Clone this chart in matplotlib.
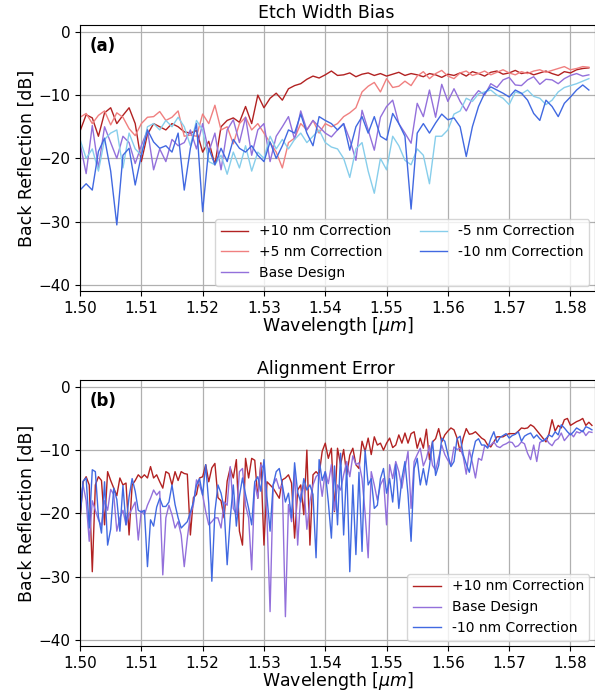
import numpy as np
import matplotlib
matplotlib.use("Agg")
import matplotlib.pyplot as plt

# wavelength sampling of the two panels (um)
wl_a = np.round(1.500 + 0.001 * np.arange(84), 4)
wl_b = np.round(1.500 + 0.0005 * np.arange(168), 4)

# (a) etch width bias, back reflection in dB
a_p10 = [-15.7, -13.1, -13.6, -16.5, -12.8, -12.0, -14.5, -13.2, -12.0, -14.5,
         -20.5, -16.2, -14.5, -15.0, -15.5, -14.5, -15.0, -15.8, -16.0, -15.6,
         -19.0, -17.3, -21.0, -15.0, -14.0, -13.6, -14.3, -11.8, -14.5, -10.0,
         -12.0, -10.5, -9.7, -10.8, -9.0, -8.5, -8.2, -7.5, -7.0, -7.3,
         -6.8, -6.2, -6.9, -6.8, -6.5, -7.1, -6.7, -6.5, -6.9, -6.6,
         -7.0, -6.7, -6.4, -6.9, -6.6, -6.8, -7.1, -6.6, -6.8, -7.2,
         -6.7, -6.9, -6.5, -7.0, -6.3, -6.6, -7.0, -6.4, -6.2, -6.7,
         -6.5, -6.1, -6.6, -6.4, -6.8, -6.5, -6.2, -6.6, -6.9, -6.3,
         -6.5, -6.0, -5.8, -5.7]
a_p5 = [-13.5, -12.9, -14.5, -13.2, -12.5, -14.7, -12.8, -13.5, -15.3, -16.4,
        -14.5, -13.5, -13.4, -12.6, -14.0, -13.5, -12.5, -16.5, -16.3, -16.5,
        -13.0, -14.5, -11.6, -15.5, -15.0, -17.7, -14.5, -13.5, -15.5, -14.5,
        -16.0, -17.5, -19.0, -21.5, -17.5, -16.8, -14.5, -15.5, -14.0, -16.0,
        -14.5, -15.0, -14.5, -13.4, -12.8, -12.0, -9.5, -8.6, -8.0, -9.5,
        -7.4, -8.8, -8.6, -7.8, -8.5, -7.0, -6.3, -7.4, -6.6, -6.1,
        -7.0, -7.4, -6.5, -6.2, -6.9, -6.6, -6.2, -6.8, -6.4, -6.0,
        -6.5, -6.8, -6.3, -6.6, -6.2, -6.0, -6.4, -6.1, -5.8, -5.5,
        -6.0, -5.8, -5.5, -5.6]
a_base = [-17.6, -22.4, -14.8, -21.5, -15.0, -17.5, -20.0, -16.5, -17.5, -20.8,
          -18.0, -15.5, -21.8, -18.5, -20.5, -17.0, -18.0, -17.5, -15.5, -18.5,
          -14.5, -19.0, -16.0, -21.8, -15.5, -13.9, -17.5, -13.5, -19.5, -15.5,
          -14.5, -20.5, -16.5, -15.0, -13.4, -17.0, -12.5, -15.5, -14.0, -15.0,
          -16.0, -16.6, -15.5, -14.5, -17.0, -20.3, -12.4, -15.5, -18.7, -13.5,
          -11.8, -10.8, -14.5, -16.0, -17.6, -11.3, -13.4, -9.2, -13.5, -8.3,
          -11.0, -9.0, -11.0, -12.5, -10.5, -9.3, -10.0, -8.2, -8.8, -7.6,
          -7.2, -8.4, -8.5, -7.6, -7.1, -8.3, -7.5, -7.6, -8.2, -7.4,
          -6.9, -6.6, -7.0, -6.8]
a_m5 = [-17.0, -20.0, -18.5, -22.0, -17.0, -16.0, -15.5, -21.5, -16.0, -18.5,
        -19.5, -15.0, -14.5, -15.5, -14.0, -15.0, -13.5, -15.0, -18.0, -14.0,
        -15.5, -20.5, -21.0, -19.5, -22.5, -19.0, -21.5, -18.0, -22.0, -19.0,
        -20.0, -16.5, -18.5, -17.0, -18.5, -17.0, -16.0, -17.5, -16.5, -15.5,
        -17.5, -18.2, -18.5, -20.0, -23.0, -18.5, -17.5, -22.0, -25.5, -20.0,
        -21.8, -16.5, -18.0, -20.3, -21.0, -18.5, -19.5, -24.0, -16.5, -16.5,
        -15.5, -13.0, -12.5, -10.5, -11.0, -9.8, -9.5, -9.2, -10.0, -10.5,
        -11.5, -9.5, -9.8, -9.2, -10.2, -10.5, -11.5, -10.8, -9.5, -8.8,
        -8.5, -8.2, -7.8, -7.4]
a_m10 = [-25.0, -24.0, -25.0, -18.9, -16.8, -22.0, -30.5, -19.5, -18.4, -24.2,
         -19.5, -15.5, -17.4, -18.4, -18.0, -19.0, -16.0, -25.0, -18.4, -14.5,
         -28.4, -18.4, -21.0, -18.4, -20.5, -17.0, -18.4, -19.0, -18.0, -19.5,
         -20.5, -17.4, -20.0, -18.0, -15.5, -16.0, -13.0, -16.0, -18.0, -13.4,
         -14.0, -14.5, -15.5, -14.5, -18.7, -15.0, -13.4, -16.0, -13.4, -16.5,
         -17.1, -12.9, -14.5, -16.5, -28.0, -16.0, -14.5, -16.0, -14.4, -13.0,
         -13.9, -13.6, -15.0, -19.7, -15.0, -11.8, -9.7, -8.7, -9.2, -9.7,
         -10.3, -9.2, -9.7, -10.8, -12.9, -14.0, -10.8, -11.8, -13.4, -11.3,
         -10.3, -9.2, -8.4, -9.2]

# (b) alignment error
b_p10 = [-21.0, -15.0, -14.2, -15.5, -29.2, -15.5, -14.2, -14.8, -21.8, -13.4,
         -14.8, -16.0, -17.2, -14.4, -15.5, -15.2, -23.4, -15.5, -14.8, -13.9,
         -14.4, -13.9, -14.4, -12.6, -14.4, -13.9, -15.0, -16.0, -13.4, -13.7,
         -15.5, -13.4, -14.8, -13.4, -13.7, -13.8, -23.4, -17.5, -17.0, -14.4,
         -14.2, -12.3, -15.0, -12.8, -12.1, -17.5, -18.0, -20.7, -14.9, -12.8,
         -14.4, -11.5, -22.8, -25.0, -11.3, -14.4, -11.3, -11.6, -17.6, -12.0,
         -25.0, -15.0, -15.5, -16.0, -16.8, -17.6, -14.7, -14.4, -13.9, -15.2,
         -23.9, -16.3, -15.5, -20.2, -10.0, -25.0, -13.9, -13.4, -13.9, -10.2,
         -8.9, -11.3, -9.7, -19.7, -9.7, -12.3, -9.9, -13.9, -10.8, -9.7,
         -12.3, -12.9, -8.6, -10.2, -8.1, -10.7, -7.9, -9.2, -8.9, -10.0,
         -8.9, -8.1, -9.6, -9.2, -7.6, -8.9, -7.3, -8.9, -7.4, -7.1,
         -9.7, -8.1, -9.7, -6.7, -11.5, -8.7, -8.2, -6.6, -8.7, -7.6,
         -7.0, -6.5, -6.8, -8.1, -10.2, -8.1, -6.6, -7.5, -7.4, -7.1,
         -7.6, -8.1, -8.4, -9.2, -9.5, -8.7, -7.9, -7.9, -7.9, -7.6,
         -7.4, -7.4, -7.4, -7.0, -6.5, -6.6, -6.5, -6.0, -6.3, -6.9,
         -7.5, -8.1, -8.7, -7.4, -5.2, -7.0, -6.1, -6.5, -5.2, -5.0,
         -6.1, -5.8, -5.5, -5.3, -5.0, -6.1, -5.6, -6.1]
b_base = [-18.0, -15.5, -18.0, -24.4, -18.0, -19.5, -21.0, -22.0, -18.0, -19.5,
          -16.2, -17.0, -22.8, -20.7, -19.5, -21.8, -20.2, -19.2, -18.2, -24.2,
          -19.5, -20.2, -18.7, -17.6, -16.3, -17.1, -16.5, -29.7, -20.7, -18.7,
          -20.2, -22.3, -21.3, -23.4, -28.4, -23.9, -20.2, -18.6, -14.7, -15.5,
          -17.1, -19.7, -21.8, -21.3, -20.7, -20.7, -22.3, -18.2, -18.7, -12.6,
          -19.2, -20.2, -13.4, -12.9, -18.7, -20.7, -28.9, -15.2, -17.6, -12.3,
          -12.9, -20.7, -35.5, -15.5, -14.5, -16.1, -15.5, -36.3, -18.6, -21.3,
          -13.4, -25.0, -17.0, -15.5, -22.5, -18.1, -15.5, -14.2, -13.7, -17.3,
          -13.4, -15.3, -12.3, -19.5, -15.5, -16.3, -13.9, -11.8, -14.2, -10.9,
          -12.3, -12.0, -14.5, -20.0, -27.0, -13.4, -15.5, -17.9, -15.5, -14.5,
          -21.8, -12.3, -14.5, -11.8, -13.4, -16.0, -12.9, -10.2, -19.2, -11.8,
          -10.7, -9.7, -12.5, -11.3, -9.3, -12.4, -13.2, -11.2, -9.2, -10.7,
          -11.6, -12.4, -9.5, -9.9, -9.7, -11.0, -13.8, -10.0, -12.0, -14.4,
          -11.3, -11.6, -9.3, -9.5, -9.2, -8.7, -9.4, -9.6, -9.2, -9.0,
          -8.7, -8.8, -9.5, -9.3, -8.7, -9.0, -10.5, -11.5, -9.2, -11.8,
          -8.8, -8.5, -8.2, -8.9, -9.3, -8.5, -8.2, -7.3, -8.5, -7.9,
          -7.3, -7.9, -7.1, -7.3, -6.9, -7.7, -7.1, -7.2]
b_m10 = [-20.7, -14.9, -14.4, -22.3, -13.1, -13.4, -20.5, -23.1, -15.0, -25.0,
         -22.5, -16.0, -17.8, -22.8, -15.6, -21.8, -17.4, -14.5, -16.5, -19.5,
         -19.8, -19.5, -28.4, -21.0, -22.0, -19.0, -17.6, -18.9, -18.9, -18.2,
         -15.5, -18.6, -20.7, -22.3, -21.8, -21.3, -19.8, -18.2, -15.5, -14.5,
         -17.1, -12.3, -18.5, -30.7, -19.7, -15.5, -16.8, -19.2, -28.1, -20.8,
         -15.5, -22.0, -17.3, -14.4, -17.0, -19.2, -21.8, -15.0, -14.2, -16.5,
         -11.5, -17.5, -22.8, -15.5, -13.4, -12.9, -15.5, -18.2, -16.8, -20.7,
         -12.0, -16.7, -18.2, -14.5, -16.3, -15.5, -17.0, -27.0, -11.5, -14.8,
         -13.4, -18.2, -23.9, -12.5, -21.8, -10.5, -23.4, -12.5, -29.2, -15.5,
         -26.5, -13.5, -26.0, -10.0, -15.5, -14.5, -19.2, -18.7, -14.5, -12.9,
         -16.8, -14.5, -18.2, -12.3, -19.2, -14.5, -11.8, -17.0, -24.4, -12.9,
         -11.3, -15.5, -12.9, -15.5, -12.5, -8.6, -14.0, -12.4, -8.1, -8.6,
         -10.7, -12.6, -11.8, -8.2, -7.8, -10.7, -12.2, -13.5, -10.7, -8.6,
         -8.2, -9.2, -9.2, -9.7, -8.2, -7.1, -8.8, -8.0, -7.7, -7.4,
         -8.1, -7.7, -7.5, -7.1, -8.6, -7.8, -7.5, -7.3, -8.1, -7.6,
         -8.2, -8.6, -8.2, -7.6, -7.9, -7.1, -7.6, -6.0, -6.5, -7.1,
         -7.6, -7.1, -6.5, -6.8, -7.1, -6.3, -6.5, -6.8]

labels_a = ['+10 nm Correction', '+5 nm Correction', 'Base Design',
            '-5 nm Correction', '-10 nm Correction']
colors_a = ['#b22222', '#f08080', '#9370db', '#87ceeb', '#4169e1']
labels_b = ['+10 nm Correction', 'Base Design', '-10 nm Correction']
colors_b = ['#b22222', '#9370db', '#4169e1']

fig = plt.figure(figsize=(5.95, 6.93), dpi=100)
ax1 = fig.add_axes([0.1345, 0.5795, 0.8655, 0.3838])
ax2 = fig.add_axes([0.1345, 0.0672, 0.8655, 0.3838])

for y, lab, c in zip([a_p10, a_p5, a_base, a_m5, a_m10], labels_a, colors_a):
    ax1.plot(wl_a, y, color=c, lw=1.0, label=lab)
for y, lab, c in zip([b_p10, b_base, b_m10], labels_b, colors_b):
    ax2.plot(wl_b, y, color=c, lw=1.0, label=lab)

for ax, title, tag in [(ax1, 'Etch Width Bias', '(a)'), (ax2, 'Alignment Error', '(b)')]:
    ax.set_xlim(1.50, 1.584)
    ax.set_ylim(-41, 1)
    ax.set_xticks([1.50, 1.51, 1.52, 1.53, 1.54, 1.55, 1.56, 1.57, 1.58])
    ax.set_yticks([0, -10, -20, -30, -40])
    ax.grid(True, color='#b0b0b0', lw=0.9)
    ax.set_axisbelow(True)
    ax.tick_params(labelsize=11)
    ax.set_xlabel(r'Wavelength [$\mu m$]', fontsize=12.5, labelpad=-1)
    ax.set_ylabel('Back Reflection [dB]', fontsize=12.5, labelpad=2)
    ax.set_title(title, fontsize=12.5, x=0.478, pad=5)
    ax.text(0.019, 0.955, tag, transform=ax.transAxes, fontsize=12,
            fontweight='bold', va='top')

ax1.legend(loc='lower right', ncol=2, fontsize=10, borderaxespad=0.4)
ax2.legend(loc='lower right', fontsize=10, borderaxespad=0.4)

fig.savefig('out.png', dpi=100)
